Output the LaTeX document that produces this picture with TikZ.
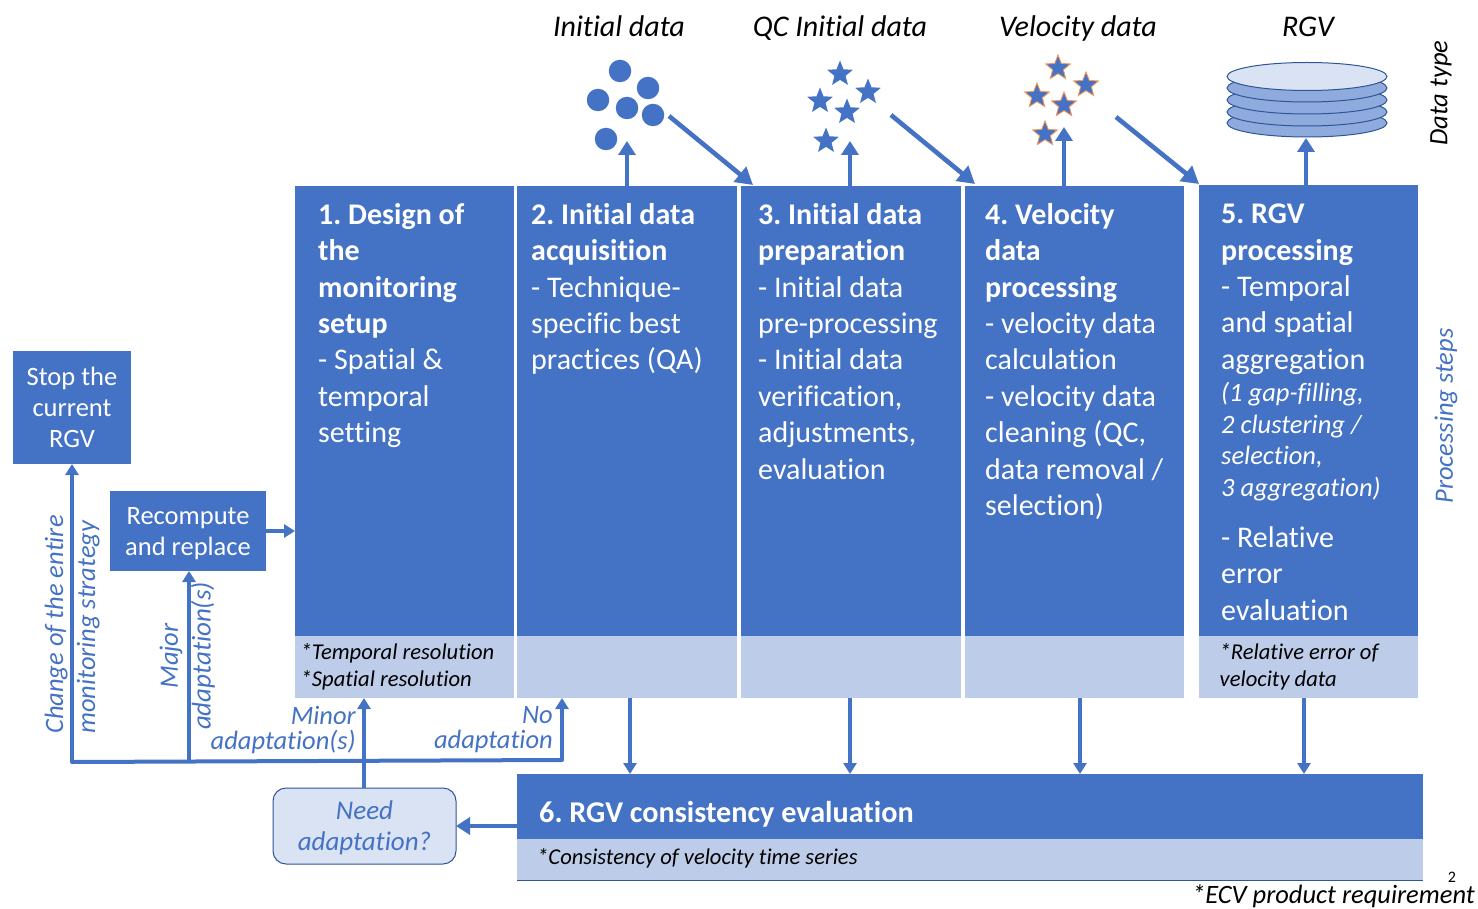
\documentclass[tikz,border=0pt]{standalone}
\usepackage{fontspec}
\setmainfont{Carlito}[Ligatures=CommonOff]
\usetikzlibrary{arrows.meta,shapes.geometric}
\definecolor{mainblue}{HTML}{4472C4}
\definecolor{paleblue}{HTML}{BDCDE9}
\definecolor{needfill}{HTML}{DAE3F3}
\definecolor{darkedge}{HTML}{2F5597}
\definecolor{diskblue}{HTML}{8FAADC}
\definecolor{starorange}{HTML}{ED7D31}
\tikzset{
  panel/.style={anchor=north west,fill=mainblue,inner sep=0,outer sep=0,minimum width=#1},
  lowpanel/.style={anchor=north west,fill=paleblue,inner sep=0,outer sep=0,minimum width=#1,minimum height=62},
  bodytext/.style={anchor=north west,inner sep=0,text=white,align=left,font=\fontsize{30}{36.4}\selectfont},
  smalltext/.style={anchor=north west,inner sep=0,align=left,font=\fontsize{22.6}{27.5}\selectfont\itshape},
  sidebox/.style={fill=mainblue,inner sep=0,outer sep=0,text=white,align=center,font=\fontsize{26.5}{31}\selectfont},
  bluelabel/.style={inner sep=0,text=mainblue,font=\fontsize{26.5}{32}\selectfont\itshape},
  typelabel/.style={inner sep=0,font=\fontsize{30}{34}\selectfont\itshape},
  flow/.style={draw=mainblue,line width=4,-{Triangle[length=14,width=17]}},
  thinflow/.style={draw=mainblue,line width=3.2,-{Triangle[length=11,width=13]}},
  plainflow/.style={draw=mainblue,line width=4,line cap=round},
  diagflow/.style={draw=mainblue,line width=4.6,-{Triangle[length=17,width=19]}},
  dot/.style={circle,fill=mainblue,inner sep=0,minimum size=22.5},
  bstar/.style={star,star points=5,star point ratio=2.3,fill=mainblue,inner sep=0,minimum size=27},
  ostar/.style={star,star points=5,star point ratio=2.3,fill=mainblue,draw=starorange!80!white,line width=0.9,inner sep=0,minimum size=26},
  diskplate/.style={ellipse,draw=darkedge,line width=1,fill=diskblue,inner sep=0,minimum width=160,minimum height=28},
  disktop/.style={diskplate,fill=needfill}
}
\frenchspacing
\begin{document}
\begin{tikzpicture}[x=1pt,y=-1pt]
\useasboundingbox (0,0) rectangle (1478,909);
% processing panels
\node[panel=219,minimum height=450] (p1) at (295,186) {};
\node[panel=220,minimum height=450] (p2) at (517,186) {};
\node[panel=220,minimum height=450] (p3) at (741,186) {};
\node[panel=219,minimum height=450] (p4) at (965,186) {};
\node[panel=219,minimum height=451] (p5) at (1199,185) {};
\node[lowpanel=219] (q1) at (295,636) {};
\node[lowpanel=220] (q2) at (517,636) {};
\node[lowpanel=220] (q3) at (741,636) {};
\node[lowpanel=219] (q4) at (965,636) {};
\node[lowpanel=219] (q5) at (1199,636) {};
\node[panel=906,minimum height=65] (p6) at (517,774) {};
\node[lowpanel=906,minimum height=41] (q6) at (517,839) {};
\draw[darkedge,line width=1] (q6.south west) -- (q6.south east);
% panel texts
\node[bodytext] (t1) at (318,203) {\textbf{1. Design of}\\\textbf{the}\\\textbf{monitoring}\\\textbf{setup}\\- Spatial \&\\temporal\\setting};
\node[bodytext] (t2) at (531,203) {\textbf{2. Initial data}\\\textbf{acquisition}\\- Technique-\\specific best\\practices (QA)};
\node[bodytext] (t3) at (758,203) {\textbf{3. Initial data}\\\textbf{preparation}\\- Initial data\\pre-processing\\- Initial data\\verification,\\adjustments,\\evaluation};
\node[bodytext] (t4) at (985,203) {\textbf{4. Velocity}\\\textbf{data}\\\textbf{processing}\\- velocity data\\calculation\\- velocity data\\cleaning (QC,\\data removal /\\selection)};
\node[bodytext] (t5a) at (1221,203.8) {\textbf{5. RGV}\\\textbf{processing}\\- Temporal\\and spatial\\aggregation};
\node[anchor=north west,inner sep=0,text=white,align=left,font=\fontsize{26.5}{31.5}\selectfont\itshape] (t5b) at (1221,382) {(1 gap-filling,\\2 clustering /\\selection,\\3 aggregation)};
\node[bodytext] (t5c) at (1221,526.5) {- Relative\\error\\evaluation};
\node[smalltext] (s1) at (300.5,643) {*Temporal resolution\\*Spatial resolution};
\node[smalltext] (s5) at (1219.5,643) {*Relative error of\\velocity data};
\node[bodytext,font=\fontsize{30.2}{36.4}\selectfont] (t6) at (539,801) {\textbf{6. RGV consistency evaluation}};
\node[smalltext] (s6) at (537,848) {*Consistency of velocity time series};
% side boxes
\node[sidebox,minimum width=118,minimum height=113] (stop) at (72,407.5) {\rule{0pt}{19pt}Stop the\\current\\RGV};
\node[sidebox,minimum width=156,minimum height=80] (recomp) at (188,531) {\rule{0pt}{22pt}Recompute\\and replace};
\node[rounded corners=13,draw=darkedge,line width=1,fill=needfill,minimum width=183,minimum height=76,inner sep=0,outer sep=0,text=mainblue,align=center,font=\fontsize{27}{31.5}\selectfont\itshape] (need) at (364.5,826) {\rule{0pt}{22pt}Need\\adaptation?};
% data-type labels
\node[typelabel,anchor=base] (l1) at (619,37) {Initial data};
\node[typelabel,anchor=base] (l2) at (840,37) {QC Initial data};
\node[typelabel,anchor=base] (l3) at (1078,37) {Velocity data};
\node[typelabel,anchor=base] (l4) at (1308,37) {RGV};
\node[typelabel,rotate=90,font=\fontsize{26.5}{32}\selectfont\itshape] (l5) at (1441,93) {Data type};
\node[bluelabel,rotate=90] (l6) at (1446,416) {Processing steps};
% data symbols
\node[dot] (d1) at (620,71) {};
\node[dot] (d2) at (648,88) {};
\node[dot] (d3) at (598,100) {};
\node[dot] (d4) at (627,108) {};
\node[dot] (d5) at (653,115) {};
\node[dot] (d6) at (606,139) {};
\node[bstar] (s11) at (840,74) {};
\node[bstar] (s12) at (868,92) {};
\node[bstar] (s13) at (820,101) {};
\node[bstar] (s14) at (847,112) {};
\node[bstar] (s15) at (826,141) {};
\node[ostar] (o1) at (1058,68) {};
\node[ostar] (o2) at (1086,85) {};
\node[ostar] (o3) at (1037,96) {};
\node[ostar] (o4) at (1064,105) {};
\node[ostar] (o5) at (1045,134) {};
\node[diskplate] (k4) at (1307,123) {};
\node[diskplate] (k3) at (1307,112) {};
\node[diskplate] (k2) at (1307,100) {};
\node[diskplate] (k1) at (1307,88) {};
\node[disktop] (k0) at (1307,76.5) {};
% free ends
\coordinate (up1) at (627,141);
\coordinate (up2) at (850,141);
\coordinate (up3) at (1064,127);
\coordinate (up4) at (1306,138);
\coordinate (dg1a) at (669,116);
\coordinate (dg1b) at (753,185);
\coordinate (dg2a) at (891,115);
\coordinate (dg2b) at (975,184);
\coordinate (dg3a) at (1116,117);
\coordinate (dg3b) at (1199,184);
\coordinate (jl) at (72,762);
\coordinate (jm) at (189,761.5);
\coordinate (jn) at (364,761);
\coordinate (jr) at (562,760);
\coordinate (d61) at (630,774);
\coordinate (d62) at (850,774);
\coordinate (d63) at (1080,774);
\coordinate (d64) at (1304,774);
% upward arrows
\draw[flow] (up1 |- p2.north) -- (up1);
\draw[flow] (up2 |- p3.north) -- (up2);
\draw[flow] (up3 |- p4.north) -- (up3);
\draw[flow] (up4 |- p5.north) -- (up4);
% diagonal arrows
\draw[diagflow] (dg1a) -- (dg1b);
\draw[diagflow] (dg2a) -- (dg2b);
\draw[diagflow] (dg3a) -- (dg3b);
% downward arrows
\draw[thinflow] (d61 |- q2.south) -- (d61);
\draw[thinflow] (d62 |- q3.south) -- (d62);
\draw[thinflow] (d63 |- q4.south) -- (d63);
\draw[thinflow] (d64 |- q5.south) -- (d64);
% feedback network
\draw[flow] (p6.west |- need.east) -- (need.east);
\draw[thinflow,line width=3.6] (jn |- need.north) -- (jn |- q1.south);
\draw[plainflow] (jl) -- (jr);
\draw[thinflow] (jl) -- (stop.south -| jl);
\draw[thinflow] (jm) -- (recomp.south -| jm);
\draw[thinflow] (jr) -- (jr |- q2.south);
\draw[thinflow] (recomp.east) -- (p1.west |- recomp.east);
% flow labels
\node[bluelabel,anchor=north east,align=right] (m1) at (356,706) {Minor\\[-7pt]adaptation(s)};
\node[bluelabel,anchor=north east,align=right] (m2) at (553,706) {No\\[-7pt]adaptation};
\node[bluelabel,rotate=90,anchor=north west,align=left] (m3) at (44.5,734) {Change of the entire\\monitoring strategy};
\node[bluelabel,rotate=90] (m4) at (171,656) {Major};
\node[bluelabel,font=\fontsize{27}{32}\selectfont\itshape,rotate=90] (m5) at (203,656) {adaptation(s)};
% page notes
\node[inner sep=0,font=\fontsize{16}{18}\selectfont] (pg) at (1452,877) {2};
\node[anchor=east,inner sep=0,font=\fontsize{26.5}{30}\selectfont\itshape] (ecv) at (1475,896.5) {*ECV product requirement};
\end{tikzpicture}
\end{document}
